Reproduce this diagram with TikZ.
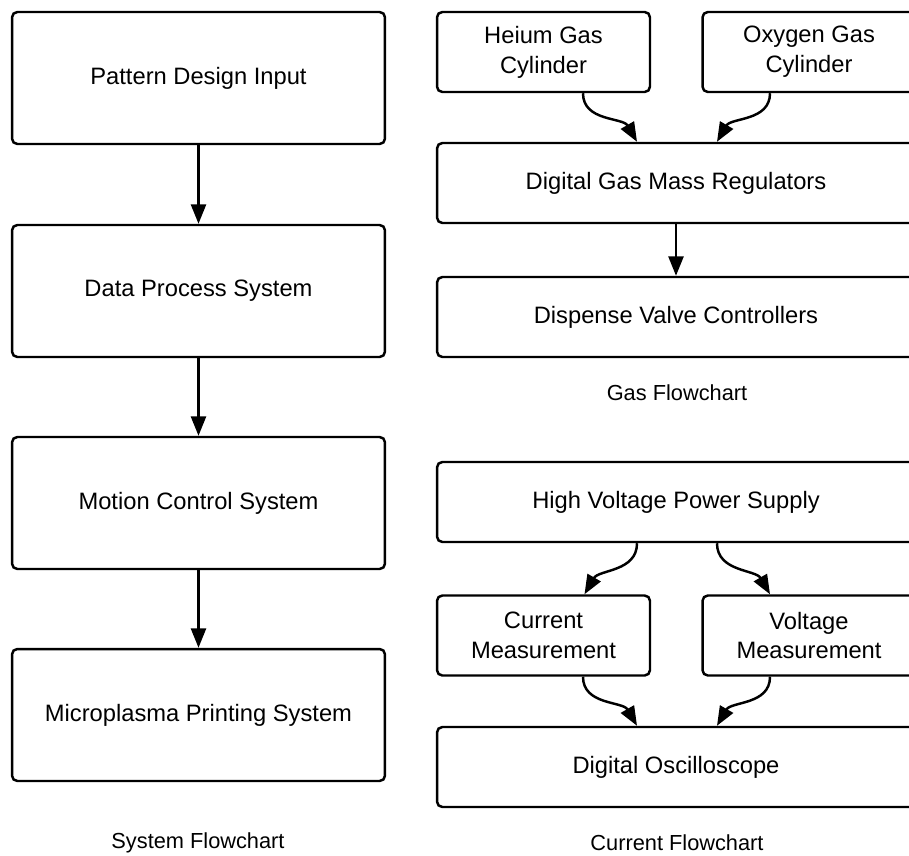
\documentclass[tikz,border=0pt]{standalone}
\usepackage{fontspec}
\setmainfont{Liberation Sans}
\usetikzlibrary{arrows.meta}

\tikzset{
  box/.style={draw, line width=1.4pt, rounded corners=3pt, align=center, inner sep=0pt,
    font=\fontsize{13.5}{17}\selectfont},
  wide/.style={box, minimum width=9.56cm, minimum height=1.6cm},
  half/.style={box, minimum width=4.26cm, minimum height=1.6cm},
  flow/.style={-{Triangle[length=11pt,width=8.5pt]}, line width=1.4pt},
  caption/.style={font=\fontsize{12.4}{15}\selectfont}
}

\begin{document}
\begin{tikzpicture}[x=0.02cm,y=-0.02cm]
\useasboundingbox (0,0) rectangle (909,855);
\clip (0,0) rectangle (909,855);

% System flowchart
\node [box, minimum width=7.46cm, minimum height=2.64cm] (design) at (198.5,78) {Pattern Design Input};
\node [box, minimum width=7.46cm, minimum height=2.64cm] (process) at (198.5,291) {Data Process System};
\node [box, minimum width=7.46cm, minimum height=2.64cm] (motion) at (198.5,503) {Motion Control System};
\node [box, minimum width=7.46cm, minimum height=2.64cm] (printing) at (198.5,715) {Microplasma Printing System};
\draw [flow] (design) -- (process);
\draw [flow] (process) -- (motion);
\draw [flow] (motion) -- (printing);
\node [caption] (syscap) at (198,843) {System Flowchart};

% Gas flowchart
\node [half] (helium) at (543.5,52) {Heium Gas\\Cylinder};
\node [half] (oxygen) at (809,52) {Oxygen Gas\\Cylinder};
\node [wide] (regulators) at (676,183) {Digital Gas Mass Regulators};
\node [wide] (valves) at (676,317) {Dispense Valve Controllers};
\draw [flow] ([xshift=0.79cm]helium.south) to[out=-90,in=120] ([xshift=-0.78cm]regulators.north);
\draw [flow] ([xshift=-0.78cm]oxygen.south) to[out=-90,in=60] ([xshift=0.82cm]regulators.north);
\draw [flow] (regulators) -- (valves);
\node [caption] (gascap) at (677,393) {Gas Flowchart};

% Current flowchart
\node [wide] (supply) at (676,502) {High Voltage Power Supply};
\node [half] (current) at (543.5,635.5) {Current\\Measurement};
\node [half] (voltage) at (809,635.5) {Voltage\\Measurement};
\node [wide] (scope) at (676,767) {Digital Oscilloscope};
\draw [flow] ([xshift=-0.78cm]supply.south) to[out=-90,in=60] ([xshift=0.82cm]current.north);
\draw [flow] ([xshift=0.82cm]supply.south) to[out=-90,in=120] ([xshift=-0.78cm]voltage.north);
\draw [flow] ([xshift=0.79cm]current.south) to[out=-90,in=120] ([xshift=-0.78cm]scope.north);
\draw [flow] ([xshift=-0.78cm]voltage.south) to[out=-90,in=60] ([xshift=0.82cm]scope.north);
\node [caption] (curcap) at (677,843) {Current Flowchart};

\end{tikzpicture}
\end{document}
